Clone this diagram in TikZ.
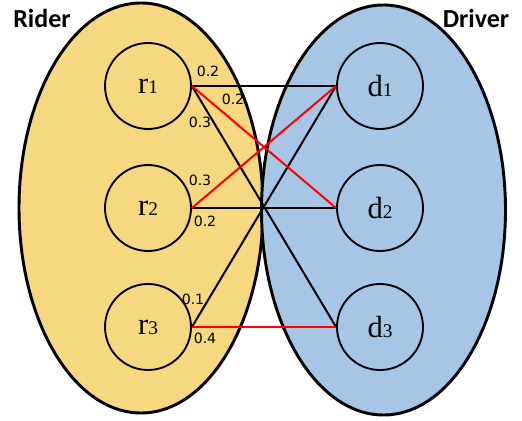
\documentclass[tikz,border=0pt]{standalone}
\usepackage{fontspec}
\setmainfont{Liberation Serif}
\newfontfamily\labfont{DejaVu Sans}
\newfontfamily\headfont{Carlito}
\usetikzlibrary{shapes.geometric}
\definecolor{ridercol}{RGB}{245,216,127}
\definecolor{drivercol}{RGB}{167,198,230}
\newcommand{\nlab}[2]{{\fontsize{23}{23}\selectfont #1}{\fontsize{14.5}{14.5}\selectfont #2}}
\tikzset{
  group/.style={ellipse, draw=black, line width=2.2pt, inner sep=0pt,
    minimum width=183pt, minimum height=307.5pt},
  agent/.style={circle, draw=black, line width=1.4pt, inner sep=0pt, minimum size=64.5pt},
  blk/.style={draw=black, line width=1.5pt},
  rd/.style={draw=red, line width=1.5pt},
  wt/.style={font=\labfont\fontsize{10.6}{10.6}\selectfont, inner sep=0pt},
  head/.style={font=\headfont\bfseries\fontsize{19.5}{19.5}\selectfont, inner sep=0pt}
}
\begin{document}
\begin{tikzpicture}[x=0.75pt,y=-0.75pt]
\useasboundingbox (0,0) rectangle (522,421);
\node[group, fill=ridercol] (rider) at (141,208) {};
\node[group, fill=drivercol] (driver) at (383.5,210) {};
\node[head] (lrider) at (42,18) {Rider};
\node[head] (ldriver) at (476,18) {Driver};
\node[agent] (r1) at (148,86) {\nlab{r}{1}};
\node[agent] (r2) at (148,208) {\nlab{r}{2}};
\node[agent] (r3) at (148,327) {\nlab{r}{3}};
\node[agent] (d1) at (380,86) {\nlab{d}{1}};
\node[agent] (d2) at (380,208) {\nlab{d}{2}};
\node[agent] (d3) at (380,327) {\nlab{d}{3}};
\draw[blk] (r1.east) -- (d1.west);
\draw[blk] (r1.east) -- (d3.west);
\draw[blk] (r2.east) -- (d2.west);
\draw[blk] (r3.east) -- (d1.west);
\draw[rd] (r1.east) -- (d2.west);
\draw[rd] (r2.east) -- (d1.west);
\draw[rd] (r3.east) -- (d3.west);
\node[wt] (w11) at (208,71) {0.2};
\node[wt] (w12) at (233,99) {0.2};
\node[wt] (w13) at (200,122) {0.3};
\node[wt] (w21) at (200,180) {0.3};
\node[wt] (w22) at (205,221) {0.2};
\node[wt] (w31) at (193,299) {0.1};
\node[wt] (w33) at (205,338) {0.4};
\end{tikzpicture}
\end{document}
